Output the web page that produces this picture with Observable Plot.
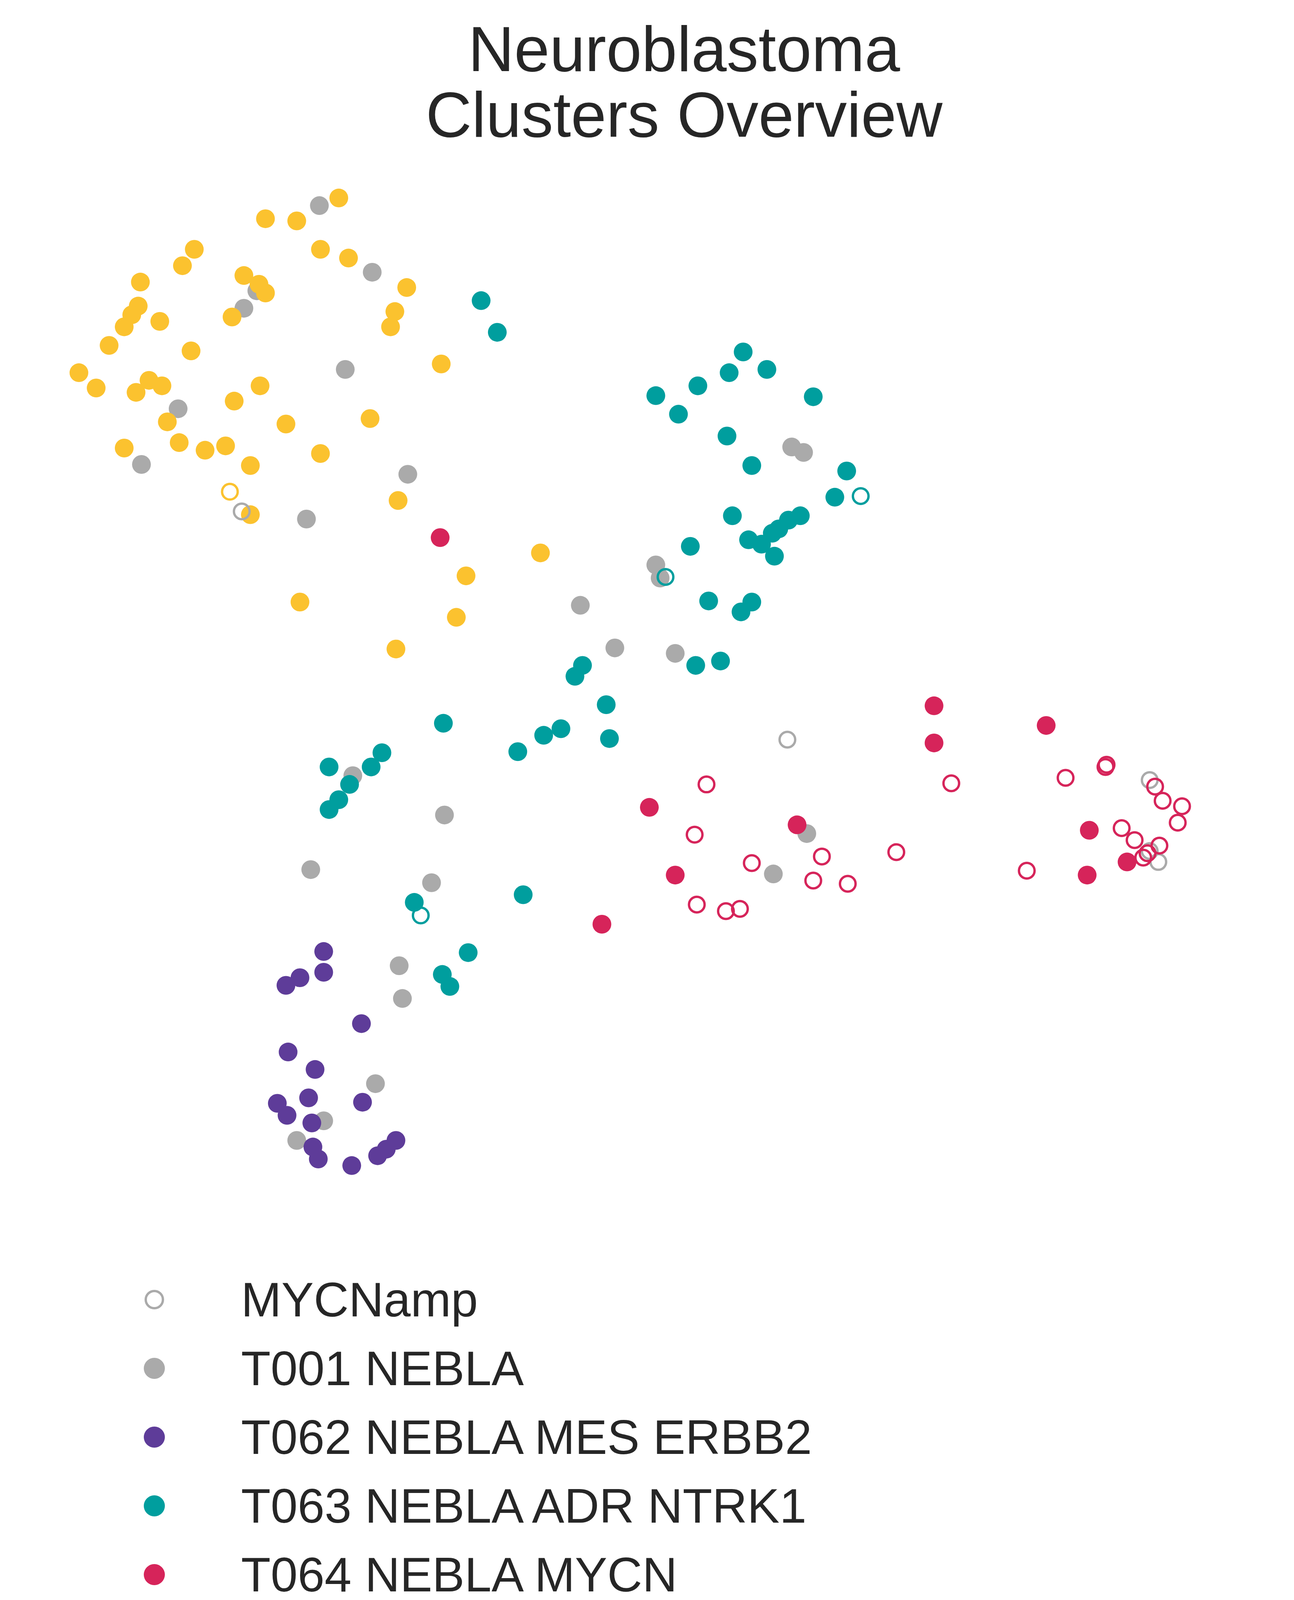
<!DOCTYPE html>
<html>
<head>
<meta charset="utf-8">
<script src="https://cdn.jsdelivr.net/npm/d3@7"></script>
<script src="https://cdn.jsdelivr.net/npm/@observablehq/plot@0.6"></script>
<style>
  body { margin: 0; background: #fff; font-family: "Liberation Sans", Arial, sans-serif; color: #262626; }
  #title { text-align: center; font-size: 163px; line-height: 168px; padding-top: 42px; padding-left: 190px; }
  #chart { margin-top: 64px; }
  #legend { margin-top: 169px; }
  .row { display: flex; align-items: center; height: 176px; font-size: 124px; }
  .row svg { margin-left: 365px; margin-right: 192px; }
</style>
</head>
<body>
<div id="title">Neuroblastoma<br>Clusters Overview</div>
<div id="chart"></div>
<div id="legend"></div>
<script>
// puntos en coordenadas de embedding (unidades arbitrarias)
const gris = [[296,190],[345,251],[238,268],[226,284],[320,340],[165,376],[131,427],[378,436],[284,477],
  [608,519],[612,531],[538,556],[570,595],[626,600],[734,411],[745,416],[327,712],[412,748],[288,798],
  [400,810],[370,886],[373,916],[348,994],[300,1028],[275,1046],[748,765],[717,802]]
const grisHueco = [[224,470],[730,679],[1066,716],[1074,791],[1066,781]]

const amarillo = [[314,183],[246,202],[275,204],[180,230],[297,230],[323,238],[169,245],[226,254],[240,262],
  [246,270],[130,260],[377,265],[128,282],[122,290],[366,287],[148,296],[215,292],[115,301],[362,301],
  [101,318],[177,323],[409,335],[73,343],[89,357],[138,350],[150,355],[126,361],[241,355],[217,369],
  [343,385],[155,388],[265,390],[115,412],[166,407],[190,414],[209,410],[297,417],[232,428],[369,460],
  [232,473],[501,508],[432,529],[278,553],[423,567],[367,596]]
const amarilloHueco = [[213,452]]

const violeta = [[300,873],[265,904],[278,897],[300,892],[335,939],[267,965],[292,981],[257,1012],[286,1007],
  [266,1023],[336,1011],[289,1030],[290,1052],[295,1063],[326,1069],[350,1060],[358,1054],[367,1046]]

const verde = [[446,277],[461,306],[689,324],[676,343],[711,340],[647,355],[608,364],[754,365],[629,381],
  [674,401],[697,428],[785,433],[774,457],[679,474],[742,474],[731,478],[722,486],[716,490],[694,496],
  [706,500],[718,511],[640,502],[657,552],[697,553],[687,562],[645,611],[668,607],[540,611],[533,621],
  [562,647],[565,678],[411,664],[480,690],[504,675],[520,669],[354,691],[344,704],[305,704],[324,720],
  [314,734],[305,743],[384,828],[485,821],[434,874],[410,894],[417,905]]
const verdeHueco = [[617,530],[798,456],[390,840]]

const rojo = [[408,494],[866,648],[866,682],[970,666],[602,741],[739,757],[626,803],[558,848],[1010,762],
  [1008,803],[1045,791]]
const rojoHueco = [[655,720],[882,719],[988,714],[1025,704],[1026,702],[644,766],[697,792],[762,786],
  [831,782],[754,808],[786,811],[646,830],[673,836],[686,834],[952,799],[1071,722],[1078,735],[1096,740],
  [1092,755],[1040,760],[1052,771],[1064,783],[1060,787],[1075,776]]

const etiquetas = ['MYCNamp', 'T001 NEBLA', 'T062 NEBLA MES ERBB2', 'T063 NEBLA ADR NTRK1', 'T064 NEBLA MYCN', 'T065 NEBLA ADR TERT']
const colores = ['#aaaaaa', '#aaaaaa', '#5e3c99', '#009e9e', '#d6245a', '#fbc22f']

const toRows = (pts, c, hueco) => pts.map(([x, y]) => ({x, y, c, hueco}))
const puntos = [
  ...toRows(gris, colores[1], false),
  ...toRows(amarillo, colores[5], false),
  ...toRows(violeta, colores[2], false),
  ...toRows(verde, colores[3], false),
  ...toRows(rojo, colores[4], false),
  ...toRows(grisHueco, colores[0], true),
  ...toRows(amarilloHueco, colores[5], true),
  ...toRows(verdeHueco, colores[3], true),
  ...toRows(rojoHueco, colores[4], true),
]

const chart = Plot.plot({
  width: 3312,
  height: 2628,
  margin: 0,
  x: {domain: [0, 1200], range: [0, 3312], axis: null},
  y: {domain: [160, 1100], range: [0, 2628], axis: null},
  marks: [
    Plot.dot(puntos.filter(d => !d.hueco), {x: 'x', y: 'y', r: 24, fill: 'c', stroke: 'none'}),
    Plot.dot(puntos.filter(d => d.hueco), {x: 'x', y: 'y', r: 20, fill: 'none', stroke: 'c', strokeWidth: 6}),
  ]
})
d3.select('#chart').append(() => chart)

const legend = d3.select('#legend')
etiquetas.forEach((t, i) => {
  const row = legend.append('div').attr('class', 'row')
  const svg = row.append('svg').attr('width', 60).attr('height', 60)
  if (i === 0) svg.append('circle').attr('cx', 30).attr('cy', 30).attr('r', 22).attr('fill', 'none').attr('stroke', colores[i]).attr('stroke-width', 6)
  else svg.append('circle').attr('cx', 30).attr('cy', 30).attr('r', 27).attr('fill', colores[i])
  row.append('span').text(t)
})
</script>
</body>
</html>
